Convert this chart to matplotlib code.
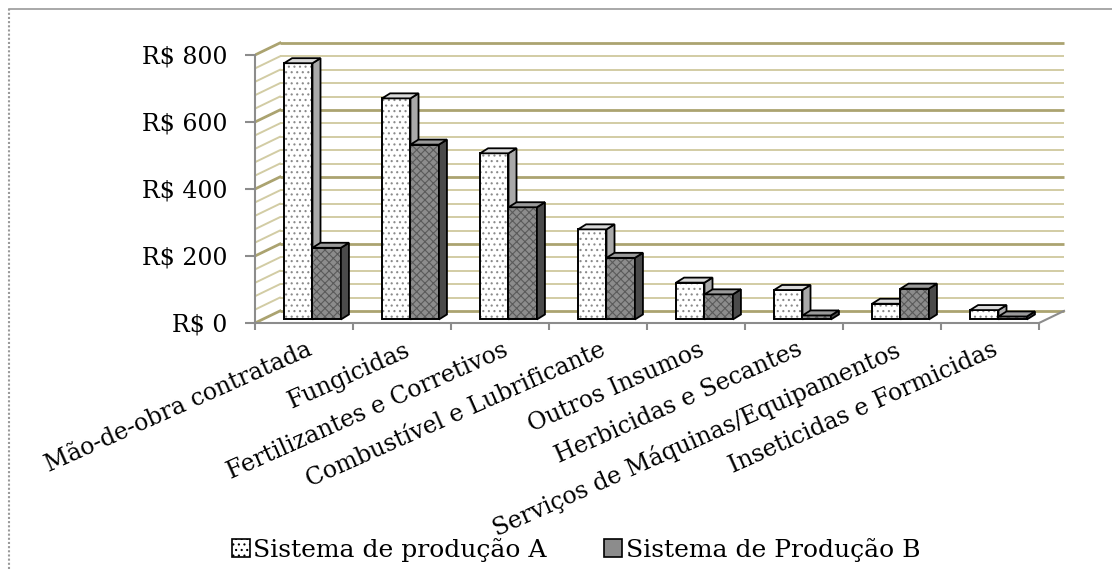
import numpy as np
import matplotlib
matplotlib.use("Agg")
import matplotlib.pyplot as plt
from matplotlib.patches import Polygon, Patch
from matplotlib.lines import Line2D

categorias = ["Mão-de-obra contratada", "Fungicidas", "Fertilizantes e Corretivos",
              "Combustível e Lubrificante", "Outros Insumos", "Herbicidas e Secantes",
              "Serviços de Máquinas/Equipamentos", "Inseticidas e Formicidas"]
sistema_a = [765, 660, 496, 269, 110, 88, 47, 28]
sistema_b = [214, 522, 335, 184, 75, 12, 92, 9]
rotulos_y = ["R$ 0", "R$ 200", "R$ 400", "R$ 600", "R$ 800"]
nomes = ["Sistema de produção A", "Sistema de Produção B"]

W, H = 1112, 569
fig = plt.figure(figsize=(W / 100, H / 100), dpi=100)

# eixo: 98 px por categoria, 0.335 px por real
xmax, ymin, ymax = 8.4, -12, 850
left_px, zero_px = 255, 323
ax = fig.add_axes([left_px / W, (H - (zero_px - ymin * 0.335)) / H,
                   xmax * 98 / W, (ymax - ymin) * 0.335 / H])
ax.set_xlim(0, xmax)
ax.set_ylim(ymin, ymax)

n = len(categorias)
DX, DY = 0.255, 36        # profundidade da parede
bdx, bdy = 0.082, 15      # profundidade das barras
fx = DX / 2 - bdx / 2
fy = DY / 2 - bdy / 2
w = 0.29

# parede do fundo e lateral
for v in range(0, 801, 40):
    maj = v % 200 == 0
    c = "#aba370" if maj else "#d2cca4"
    lw = 2.0 if maj else 1.4
    ax.plot([DX, n + DX], [v + DY, v + DY], color=c, lw=lw, zorder=1, solid_capstyle="butt")
    ax.plot([0, DX], [v, v + DY], color=c, lw=lw, zorder=1)
ax.plot([n, n + DX], [0, DY], color="#8c8c8c", lw=1.5, zorder=1)


def barra_3d(x0, h, frente, hatch, hcor, lado, topo):
    ax.bar(x0, h, width=w, bottom=fy, align="edge", color=frente, edgecolor=hcor,
           hatch=hatch, lw=0, zorder=3)
    ax.bar(x0, h, width=w, bottom=fy, align="edge", fill=False, edgecolor="black",
           lw=1.4, zorder=3)
    y0, y1 = fy, fy + h
    side = [(x0 + w, y0), (x0 + w + bdx, y0 + bdy), (x0 + w + bdx, y1 + bdy), (x0 + w, y1)]
    top = [(x0, y1), (x0 + w, y1), (x0 + w + bdx, y1 + bdy), (x0 + bdx, y1 + bdy)]
    ax.add_patch(Polygon(side, closed=True, facecolor=lado, edgecolor="black", lw=1.3, zorder=3))
    ax.add_patch(Polygon(top, closed=True, facecolor=topo, edgecolor="black", lw=1.3, zorder=3))


plt.rcParams["hatch.linewidth"] = 0.8
x = np.arange(n)
for i in range(n):
    xa = x[i] + 0.5 - w + fx
    barra_3d(xa, sistema_a[i], "white", "...", "#8a8a8a", "#a9a9a9", "#d9d9d9")
    barra_3d(xa + w, sistema_b[i], "#8c8c8c", "xxxx", "#5a5a5a", "#4a4a4a", "#9a9a9a")

# eixos
for s in ["top", "right"]:
    ax.spines[s].set_visible(False)
ax.spines["left"].set_bounds(0, 800)
ax.spines["bottom"].set_bounds(0, n)
for s in ["left", "bottom"]:
    ax.spines[s].set_color("#8c8c8c")
    ax.spines[s].set_linewidth(1.5)
    ax.spines[s].set_position(("data", 0))
ax.set_yticks(range(0, 801, 200))
ax.set_yticklabels(rotulos_y, family=["DejaVu Serif"], fontsize=17)
ax.set_xticks(range(n + 1))
ax.set_xticklabels([])
ax.tick_params(axis="y", length=7, width=1.5, color="#8c8c8c", pad=13)
ax.tick_params(axis="x", length=5, width=1.5, color="#8c8c8c")
ax.patch.set_visible(False)

for i, nome in enumerate(categorias):
    ax.text(i + 0.52, -45, nome, ha="right", va="top", rotation=24,
            rotation_mode="anchor", family=["DejaVu Serif"], fontsize=17)

handles = [Patch(facecolor="white", edgecolor="black", hatch="...", lw=1.2),
           Patch(facecolor="#8c8c8c", edgecolor="black", lw=1.2)]
fig.legend(handles, nomes, loc="center", bbox_to_anchor=(0.518, 1 - 550 / H), ncol=2,
           frameon=False, prop={"family": "DejaVu Serif", "size": 18},
           handlelength=0.7, handleheight=0.7, handletextpad=0.15, columnspacing=2.3)

# moldura
fig.add_artist(Line2D([9 / W, 1], [1 - 9 / H] * 2, color="#9a9a9a", lw=1.2))
fig.add_artist(Line2D([9 / W] * 2, [0, 1 - 9 / H], color="#9a9a9a", lw=1.5, ls=(0, (1, 1))))

fig.savefig("out.png", dpi=100)
